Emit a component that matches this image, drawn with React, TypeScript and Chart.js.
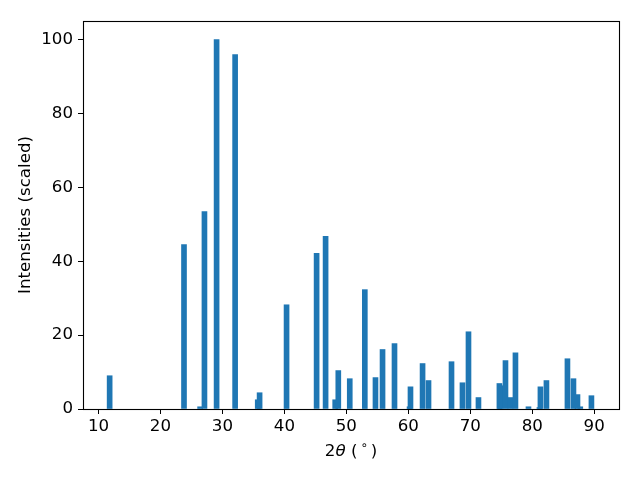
import React, { useEffect, useRef } from 'react';
import { Chart, registerables } from 'chart.js';

Chart.register(...registerables);

// 2θ positions (degrees) and scaled intensities
const twoTheta = [
  11.8, 23.8, 26.4, 27.1, 29.06, 32.05, 35.7, 36.0, 40.35, 45.2,
  46.65, 48.2, 48.7, 50.55, 52.98, 54.7, 55.84, 57.77, 60.2, 60.35,
  62.3, 63.26, 66.97, 68.74, 69.71, 71.32, 74.85, 74.7, 75.68, 76.48,
  77.29, 79.39, 81.16, 81.32, 82.29, 85.68, 86.65, 87.3, 87.75, 89.55,
];
const intensity = [
  9.0, 44.5, 0.6, 53.4, 100, 95.9, 2.5, 4.4, 28.2, 42.1,
  46.7, 2.5, 10.4, 8.2, 32.3, 8.5, 16.1, 17.7, 0.6, 6.0,
  12.3, 7.7, 12.8, 7.1, 20.9, 3.1, 6.3, 6.9, 13.1, 3.1,
  15.2, 0.6, 0.4, 6.0, 7.7, 13.6, 8.2, 3.9, 0.6, 3.6,
];
const xTicks = [10, 20, 30, 40, 50, 60, 70, 80, 90];
const yTicks = [0, 20, 40, 60, 80, 100];
const yTitle = 'Intensities (scaled)';

const FONT = '"DejaVu Sans"';
const FS = 16.67;

const framePlugin = {
  id: 'frameAndLabels',
  afterDraw(chart: any) {
    const { ctx, chartArea: a } = chart;
    ctx.save();
    // spines
    ctx.strokeStyle = '#000';
    ctx.lineWidth = 1.1;
    ctx.strokeRect(Math.round(a.left) + 0.5, Math.round(a.top) + 0.5, Math.round(a.right - a.left), Math.round(a.bottom - a.top));

    // x label: 2θ (°) in mathtext style
    const parts = [
      { t: '2', font: `${FS}px ${FONT}`, dy: 0, gap: 0 },
      { t: 'θ', font: `italic ${FS}px ${FONT}`, dy: 0, gap: 0 },
      { t: ' (', font: `${FS}px ${FONT}`, dy: 0, gap: 3 },
      { t: '∘', font: `${FS * 0.7}px ${FONT}`, dy: -6, gap: 3 },
      { t: ')', font: `${FS}px ${FONT}`, dy: 0, gap: 0 },
    ];
    let total = 0;
    const widths: number[] = [];
    for (const p of parts) {
      ctx.font = p.font;
      const w = ctx.measureText(p.t).width + p.gap;
      widths.push(w);
      total += w;
    }
    let x = (a.left + a.right) / 2 - total / 2;
    const y = a.bottom + 43;
    ctx.fillStyle = '#000';
    ctx.textBaseline = 'middle';
    ctx.textAlign = 'left';
    parts.forEach((p, i) => {
      ctx.font = p.font;
      ctx.fillText(p.t, x, y + p.dy);
      x += widths[i];
    });

    // y label
    ctx.font = `${FS}px ${FONT}`;
    ctx.translate(26, (a.top + a.bottom) / 2);
    ctx.rotate(-Math.PI / 2);
    ctx.textAlign = 'center';
    ctx.textBaseline = 'middle';
    ctx.fillText(yTitle, 0, 0);
    ctx.restore();
  },
};

export default function App() {
  const ref = useRef<HTMLCanvasElement>(null);
  useEffect(() => {
    document.body.style.margin = '0';
    if (!ref.current) return;
    const chart = new Chart(ref.current, {
      type: 'bar',
      data: {
        datasets: [
          {
            data: twoTheta.map((x, i) => ({ x, y: intensity[i] })),
            backgroundColor: '#1f77b4',
            borderWidth: 0,
            barThickness: 5,
          },
        ],
      },
      options: {
        responsive: false,
        animation: false,
        events: [],
        layout: { padding: { left: 0, right: 21, top: 21, bottom: 0 } },
        plugins: {
          legend: { display: false },
          tooltip: { enabled: false },
        },
        scales: {
          x: {
            type: 'linear',
            min: 7.5,
            max: 94,
            offset: false,
            afterBuildTicks: (s: any) => {
              s.ticks = xTicks.map((v) => ({ value: v }));
            },
            afterFit: (s: any) => {
              s.height = 71;
            },
            grid: {
              offset: false,
              drawOnChartArea: false,
              drawTicks: true,
              tickLength: 5,
              color: '#000',
              lineWidth: 1,
            },
            border: { display: false },
            ticks: {
              color: '#000',
              padding: 3,
              maxRotation: 0,
              autoSkip: false,
              font: { family: FONT, size: FS },
              callback: (v: any) => String(v),
            },
          },
          y: {
            type: 'linear',
            min: 0,
            max: 105,
            afterBuildTicks: (s: any) => {
              s.ticks = yTicks.map((v) => ({ value: v }));
            },
            afterFit: (s: any) => {
              s.width = 83;
            },
            grid: {
              offset: false,
              drawOnChartArea: false,
              drawTicks: true,
              tickLength: 5,
              color: '#000',
              lineWidth: 1,
            },
            border: { display: false },
            ticks: {
              color: '#000',
              padding: 5,
              autoSkip: false,
              font: { family: FONT, size: FS },
              callback: (v: any) => String(v),
            },
          },
        },
      },
      plugins: [framePlugin],
    });
    return () => chart.destroy();
  }, []);
  return (
    <div style={{ width: 640, height: 480, background: '#fff' }}>
      <canvas ref={ref} width={640} height={480} />
    </div>
  );
}
